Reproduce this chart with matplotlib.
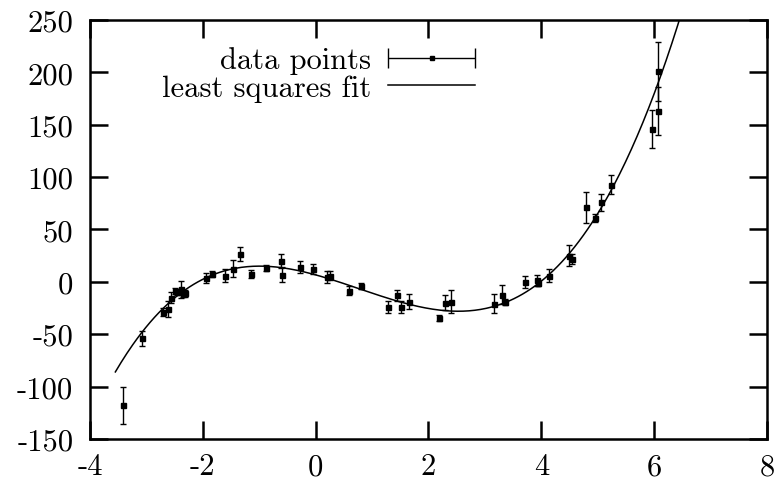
import numpy as np
import matplotlib
matplotlib.use('Agg')
import matplotlib.pyplot as plt
from matplotlib.legend_handler import HandlerErrorbar

plt.rcParams['font.family'] = 'cmr10'
plt.rcParams['axes.unicode_minus'] = False
plt.rcParams['mathtext.fontset'] = 'cm'

x_data = [-3.42, -3.08, -2.71, -2.62, -2.57, -2.50, -2.45, -2.39, -2.35, -2.31,
          -1.94, -1.84, -1.61, -1.46, -1.34, -1.15, -0.88, -0.62, -0.60, -0.28,
          -0.05, 0.21, 0.25, 0.59, 0.80, 1.28, 1.44, 1.52, 1.65, 2.19,
          2.29, 2.40, 3.17, 3.30, 3.36, 3.71, 3.93, 3.95, 4.13, 4.50,
          4.55, 4.79, 4.95, 5.06, 5.24, 5.96, 6.07, 6.07]
y_data = [-118, -54, -29, -26, -15, -9, -10, -7, -11, -11,
          3.5, 7.6, 6, 12.4, 26.7, 7.6, 13.4, 20, 6.7, 14,
          12.4, 4.5, 6, -8.3, -4.1, -24, -13, -24, -19, -34.6,
          -20, -19, -21, -12.4, -19.4, -0.3, 1.3, -1, 6, 25,
          22, 71, 61, 76, 92.6, 146, 201, 163]
y_err = [18, 7, 4, 8, 5, 3, 3, 8, 3, 3,
         5, 3, 6, 8, 7, 4, 3, 7, 7, 6,
         5, 6, 4, 4, 3, 6, 5, 6, 7, 3,
         7, 11, 9, 9, 3, 6, 5, 3, 6, 10,
         5, 15, 4, 8, 9, 18, 28, 23]

x_ticks = [-4, -2, 0, 2, 4, 6, 8]
y_ticks = [-150, -100, -50, 0, 50, 100, 150, 200, 250]

# weighted least squares cubic fit
coef = np.polyfit(x_data, y_data, 3, w=1.0 / np.array(y_err))
x_fit = np.linspace(-3.55, 6.7, 400)
y_fit = np.polyval(coef, x_fit)

fig = plt.figure(figsize=(7.79, 4.85), dpi=100)
ax = fig.add_axes([0.1155, 0.0928, 0.869, 0.864])

ax.errorbar(x_data, y_data, yerr=y_err, fmt='s', color='black', ms=3.6,
            elinewidth=1.0, capsize=2.0, capthick=1.0)
fit_line, = ax.plot(x_fit, y_fit, color='black', lw=1.1)

# proxy for the gnuplot style key entry (horizontal bar with caps)
proxy = ax.errorbar([np.nan], [np.nan], xerr=[1.0], fmt='s', color='black',
                    ms=3.0, elinewidth=1.0, capsize=7.0, capthick=1.0)

ax.set_xlim(-4, 8)
ax.set_ylim(-150, 250)
ax.set_xticks(x_ticks)
ax.set_yticks(y_ticks)

for s in ax.spines.values():
    s.set_linewidth(1.8)
ax.tick_params(direction='in', length=13, width=1.8, top=True, right=True,
               labelsize=22)
ax.tick_params(axis='y', pad=12)
ax.tick_params(axis='x', pad=10)

ax.legend([proxy, fit_line], ['data points', 'least squares fit'],
          markerfirst=False, frameon=False, loc='upper right',
          bbox_to_anchor=(0.569, 0.937), fontsize=22, borderpad=0,
          borderaxespad=0, labelspacing=0.0, handlelength=2.85,
          handletextpad=0.55,
          handler_map={type(proxy): HandlerErrorbar(xerr_size=1.42)})

fig.savefig('out.png', dpi=100)
